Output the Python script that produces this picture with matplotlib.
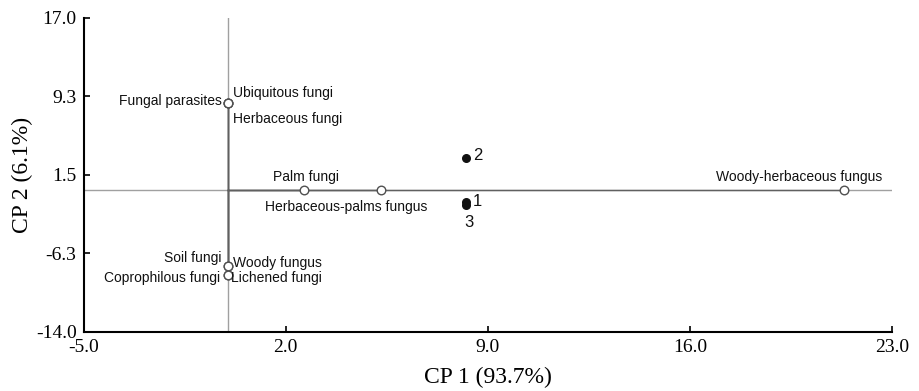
import matplotlib
matplotlib.use("Agg")
import matplotlib.pyplot as plt

# variable loadings (open circles)
var_names = ["Fungal parasites", "Ubiquitous fungi", "Herbaceous fungi",
             "Palm fungi", "Herbaceous-palms fungus", "Woody-herbaceous fungus",
             "Soil fungi", "Woody fungus", "Coprophilous fungi", "Lichened fungi"]
var_x = [0.0, 0.0, 0.0, 2.65, 5.3, 21.35, 0.0, 0.0, 0.0, 0.0]
var_y = [8.6, 8.6, 8.6, 0.0, 0.0, 0.0, -7.45, -7.45, -8.4, -8.4]

# sample scores (filled dots)
sample_names = ["2", "1", "3"]
sample_x = [8.25, 8.25, 8.25]
sample_y = [3.15, -1.15, -1.45]

x_ticks = [-5.0, 2.0, 9.0, 16.0, 23.0]
y_ticks = [-14.0, -6.25, 1.5, 9.25, 17.0]
y_tick_labels = ["-14.0", "-6.3", "1.5", "9.3", "17.0"]

# label placement (pixel offsets, alignment)
var_label_pos = [(-6, 2, "right"), (5, 10, "left"), (5, -16, "left"),
                 (2, 13, "center"), (-35, -17, "center"), (-45, 13, "center"),
                 (-6, 8, "right"), (5, 3, "left"), (-8, -3, "right"), (3, -3, "left")]
sample_label_pos = [(7, 3, "left"), (7, 0, "left"), (3, -18, "center")]

fig = plt.figure(figsize=(9.19, 3.91), dpi=100)
ax = fig.add_axes([0.0909, 0.151, 0.8797, 0.803])

ax.set_xlim(x_ticks[0], x_ticks[-1])
ax.set_ylim(y_ticks[0], y_ticks[-1])

# zero lines
ax.axvline(0, color="#a0a0a0", lw=1.0, zorder=1)
ax.axhline(0, color="#a0a0a0", lw=1.0, zorder=1)

# vectors from origin
for x, y in zip(var_x, var_y):
    ax.plot([0, x], [0, y], color="#606060", lw=1.0, zorder=2)

ax.scatter(var_x, var_y, s=38, facecolor="white", edgecolor="#505050",
           linewidth=1.0, zorder=3)
ax.scatter(sample_x, sample_y, s=30, color="#111111", zorder=3)

for name, x, y, (dx, dy, ha) in zip(var_names, var_x, var_y, var_label_pos):
    ax.annotate(name, (x, y), xytext=(dx, dy), textcoords="offset pixels",
                ha=ha, va="center", fontsize=10, family="Liberation Sans",
                color="#111111")

for name, x, y, (dx, dy, ha) in zip(sample_names, sample_x, sample_y, sample_label_pos):
    ax.annotate(name, (x, y), xytext=(dx, dy), textcoords="offset pixels",
                ha=ha, va="center", fontsize=12, family="Liberation Sans",
                color="#111111")

ax.set_xticks(x_ticks)
ax.set_xticklabels(["%.1f" % v for v in x_ticks])
ax.set_yticks(y_ticks)
ax.set_yticklabels(y_tick_labels)

for lab in ax.get_xticklabels() + ax.get_yticklabels():
    lab.set_family("Liberation Serif")
    lab.set_fontsize(14)

ax.tick_params(direction="in", length=4, width=1.2, pad=5)
ax.spines["top"].set_visible(False)
ax.spines["right"].set_visible(False)
ax.spines["left"].set_linewidth(1.5)
ax.spines["bottom"].set_linewidth(1.5)

ax.set_xlabel("CP 1 (93.7%)", family="Liberation Serif", fontsize=17, labelpad=8)
ax.set_ylabel("CP 2 (6.1%)", family="Liberation Serif", fontsize=17)
ax.yaxis.set_label_coords(-0.063, 0.5)

fig.savefig("out.png", dpi=100)
